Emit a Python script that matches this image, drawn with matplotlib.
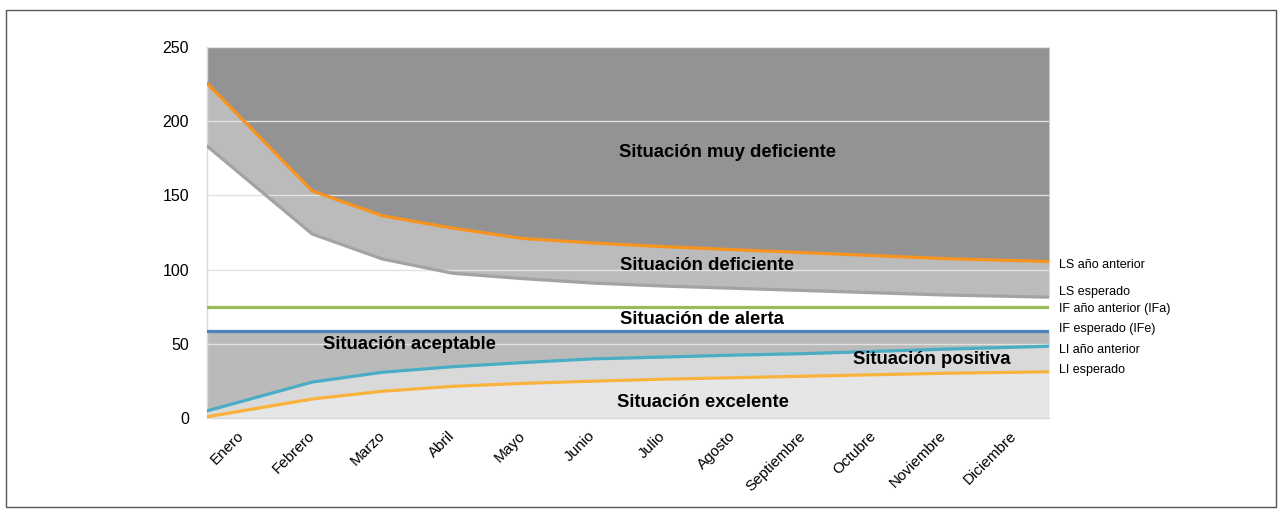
import numpy as np
import matplotlib.pyplot as plt
from matplotlib.patches import Rectangle

plt.rcParams['font.family'] = ['Liberation Sans', 'DejaVu Sans']

months = ['Enero', 'Febrero', 'Marzo', 'Abril', 'Mayo', 'Junio', 'Julio',
          'Agosto', 'Septiembre', 'Octubre', 'Noviembre', 'Diciembre']

# limits per month
ls_prev = [225.5, 153, 136.3, 128, 121, 118, 115.5, 113.5, 111.5, 109.5, 107.5, 105.5]
ls_exp = [183.2, 124, 107.2, 97.6, 94, 91, 89, 87.5, 86, 84.5, 83, 81.5]
if_prev = [75, 75, 75, 75, 75, 75, 75, 75, 75, 75, 75, 75]
if_exp = [58.7, 58.7, 58.7, 58.7, 58.7, 58.7, 58.7, 58.7, 58.7, 58.7, 58.7, 58.7]
li_prev = [5, 24.4, 31, 34.7, 37.5, 40, 41.2, 42.5, 43.5, 45, 46.5, 48.5]
li_exp = [1, 13, 18.2, 21.5, 23.5, 25, 26.3, 27.3, 28.3, 29.3, 30.3, 31.3]

series_names = ['LS año anterior', 'LS esperado', 'IF año anterior (IFa)',
                'IF esperado (IFe)', 'LI año anterior', 'LI esperado']
name_y = [103, 85, 73.6, 60.1, 46, 32.5]

zones = ['Situación muy deficiente', 'Situación deficiente', 'Situación de alerta',
         'Situación aceptable', 'Situación positiva', 'Situación excelente']
zone_x = [6.92, 6.63, 6.56, 2.38, 9.83, 6.57]
zone_y = [179, 102.5, 66.8, 49.4, 39.3, 10.3]

y_max = 250

# first and last points sit on the plot edges, the rest on the month centres
x = np.arange(len(months), dtype=float)
x[0] = -0.5
x[-1] = len(months) - 0.5

fig = plt.figure(figsize=(12.82, 5.13), dpi=100)
ax = fig.add_axes([207 / 1282, 1 - 418.3 / 513, 842 / 1282, 371.5 / 513])

ax.fill_between(x, ls_prev, y_max, color='#939393', lw=0, zorder=1)
ax.fill_between(x, ls_exp, ls_prev, color='#bbbbbb', lw=0, zorder=1)
ax.fill_between(x, li_prev, if_exp, color='#bababa', lw=0, zorder=1)
ax.fill_between(x, li_exp, li_prev, color='#d9d9d9', lw=0, zorder=1)
ax.fill_between(x, 0, li_exp, color='#e6e6e6', lw=0, zorder=1)

for yv in range(50, y_max + 1, 50):
    ax.axhline(yv, color='#e2e2e2', lw=1, zorder=2)

lw = 2.3
ax.plot(x, ls_prev, color='#f7931e', lw=lw, zorder=3)
ax.plot(x, ls_exp, color='#a3a3a3', lw=lw, zorder=3)
ax.plot(x, if_prev, color='#9bbb59', lw=lw, zorder=3)
ax.plot(x, if_exp, color='#4f81bd', lw=lw, zorder=3)
ax.plot(x, li_prev, color='#4bacc6', lw=lw, zorder=3)
ax.plot(x, li_exp, color='#f9b23c', lw=lw, zorder=3)

for name, zx, zy in zip(zones, zone_x, zone_y):
    ax.text(zx, zy, name, ha='center', va='center', fontsize=13.3,
            fontweight='bold', color='black', zorder=4)

for name, yv in zip(series_names, name_y):
    ax.annotate(name, xy=(x[-1], yv), xytext=(7, 0), textcoords='offset points',
                ha='left', va='center', fontsize=9, annotation_clip=False)

ax.set_xlim(x[0], x[-1])
ax.set_ylim(0, y_max)
ax.set_yticks(range(0, y_max + 1, 50))
ax.set_xticks(range(len(months)))
ax.set_xticklabels(months, rotation=45, ha='right', va='center', rotation_mode='anchor')
ax.tick_params(axis='both', length=0, labelsize=11.5)
ax.tick_params(axis='x', labelsize=11, pad=11)
ax.tick_params(axis='y', pad=13)

for side in ['top', 'right']:
    ax.spines[side].set_visible(False)
for side in ['left', 'bottom']:
    ax.spines[side].set_color('#d9d9d9')
    ax.spines[side].set_linewidth(1)

fig.patches.append(Rectangle((5.5 / 1282, 6 / 513), 1270 / 1282, 497 / 513,
                             transform=fig.transFigure, fill=False,
                             edgecolor='#555555', lw=1))

fig.savefig('out.png', dpi=100)
